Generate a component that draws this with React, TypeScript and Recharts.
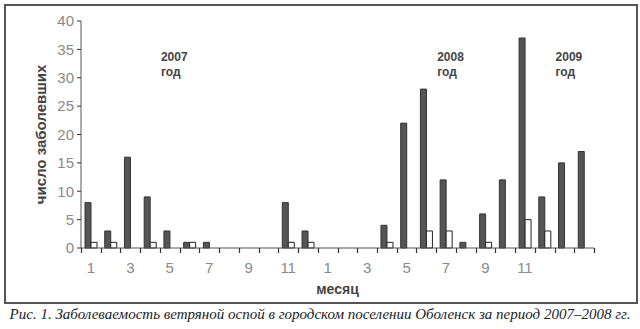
import React from 'react';
import { BarChart, Bar, XAxis, YAxis, Label } from 'recharts';

const periods = [
  '2007-01','2007-02','2007-03','2007-04','2007-05','2007-06','2007-07','2007-08','2007-09','2007-10','2007-11','2007-12',
  '2008-01','2008-02','2008-03','2008-04','2008-05','2008-06','2008-07','2008-08','2008-09','2008-10','2008-11','2008-12',
  '2009-01','2009-02',
];
const tickLabels = [
  '1','','3','','5','','7','','9','','11','',
  '1','','3','','5','','7','','9','','11','',
  '','',
];
const darkSeries = [8,3,16,9,3,1,1,0,0,0,8,3, 0,0,0,4,22,28,12,1,6,12,37,9, 15,17];
const whiteSeries = [1,1,0,1,0,1,0,0,0,0,1,1, 0,0,0,1,0,3,3,0,1,0,5,3, 0,0];
const yTicks = [0,5,10,15,20,25,30,35,40];
const yearNotes = [
  { year: '2007', period: '2007-05' },
  { year: '2008', period: '2008-07' },
  { year: '2009', period: '2009-01' },
];

const data = periods.map((p, i) => ({ period: p, dark: darkSeries[i], light: whiteSeries[i] }));

const TICK_SIZE = 5;
const TICK_MARGIN = 9;
const PLOT_LEFT = 81;
const PLOT_WIDTH = 513;
const PLOT_TOP = 21;
const PLOT_BOTTOM = 248;

const MonthTick = (props: any) => {
  const { x, y, index } = props;
  const half = PLOT_WIDTH / periods.length / 2;
  const isLast = index === periods.length - 1;
  const lx = Math.round(Number(x) - half) + 0.5;
  const rx = Math.round(Number(x) + half) + 0.5;
  return (
    <g>
      <path d={`M${lx},${PLOT_BOTTOM}V${PLOT_BOTTOM + TICK_SIZE}`} style={{ stroke: '#333', strokeWidth: 1.2, fill: 'none' }} />
      {isLast && (
        <path d={`M${rx},${PLOT_BOTTOM}V${PLOT_BOTTOM + TICK_SIZE}`} style={{ stroke: '#333', strokeWidth: 1.2, fill: 'none' }} />
      )}
      <text x={x} y={y} dy="0.71em" textAnchor="middle" fontSize={15} fill="#8a8a8a" fontFamily="'Liberation Sans', Arial, sans-serif">
        {tickLabels[index]}
      </text>
    </g>
  );
};

export default function App() {
  return (
    <div style={{ position: 'absolute', left: 0, top: 0, width: 640, height: 329, background: '#fff', overflow: 'hidden' }}>
      <div style={{ position: 'absolute', left: 4, top: 4, width: 630, height: 296, border: '2px solid #555' }} />
      <div style={{ position: 'absolute', left: 0, top: 0 }}>
        <BarChart
          width={640}
          height={302}
          data={data}
          margin={{ top: PLOT_TOP, right: 640 - PLOT_LEFT - PLOT_WIDTH, bottom: 0, left: 0 }}
          barGap={0}
          barSize={6}
        >
          <XAxis
            dataKey="period"
            interval={0}
            tick={<MonthTick />}
            tickLine={false}
            tickSize={TICK_SIZE}
            tickMargin={TICK_MARGIN}
            axisLine={{ stroke: '#555' }}
            height={302 - PLOT_BOTTOM}
          >
            <Label value="месяц" position="insideBottom" offset={8} fill="#444" fontSize={14} fontWeight="bold" fontFamily="'Liberation Sans', Arial, sans-serif" />
          </XAxis>
          <YAxis
            domain={[0, 40]}
            ticks={yTicks}
            width={PLOT_LEFT}
            tickSize={4}
            tickMargin={3}
            tickLine={{ stroke: '#333' }}
            axisLine={{ stroke: '#555' }}
            tick={{ fill: '#8a8a8a', fontSize: 15, fontFamily: "'Liberation Sans', Arial, sans-serif" }}
            interval={0}
          >
            <Label value="число заболевших" angle={-90} position="center" fill="#444" fontSize={15} fontWeight="bold" fontFamily="'Liberation Sans', Arial, sans-serif" />
          </YAxis>
          <Bar dataKey="dark" fill="#555" stroke="#333" strokeWidth={1} isAnimationActive={false} />
          <Bar dataKey="light" fill="#fff" stroke="#222" strokeWidth={1} isAnimationActive={false} />
        </BarChart>
      </div>
      {yearNotes.map((n) => {
        const idx = periods.indexOf(n.period);
        const left = PLOT_LEFT + (PLOT_WIDTH / periods.length) * idx + 1;
        return (
          <div
            key={n.year}
            style={{
              position: 'absolute',
              left,
              top: 50,
              fontFamily: "'Liberation Sans Narrow', 'Liberation Sans', Arial, sans-serif",
              fontWeight: 'bold',
              fontSize: 12,
              lineHeight: '15px',
              color: '#444',
            }}
          >
            {n.year}
            <br />
            год
          </div>
        );
      })}
      <div
        style={{
          position: 'absolute',
          left: 0,
          top: 306,
          width: 640,
          textAlign: 'center',
          fontFamily: "'Liberation Serif', 'DejaVu Serif', serif",
          fontStyle: 'italic',
          fontSize: 15,
          color: '#222',
          whiteSpace: 'nowrap',
        }}
      >
        Рис. 1. Заболеваемость ветряной оспой в городском поселении Оболенск за период 2007–2008 гг.
      </div>
    </div>
  );
}
